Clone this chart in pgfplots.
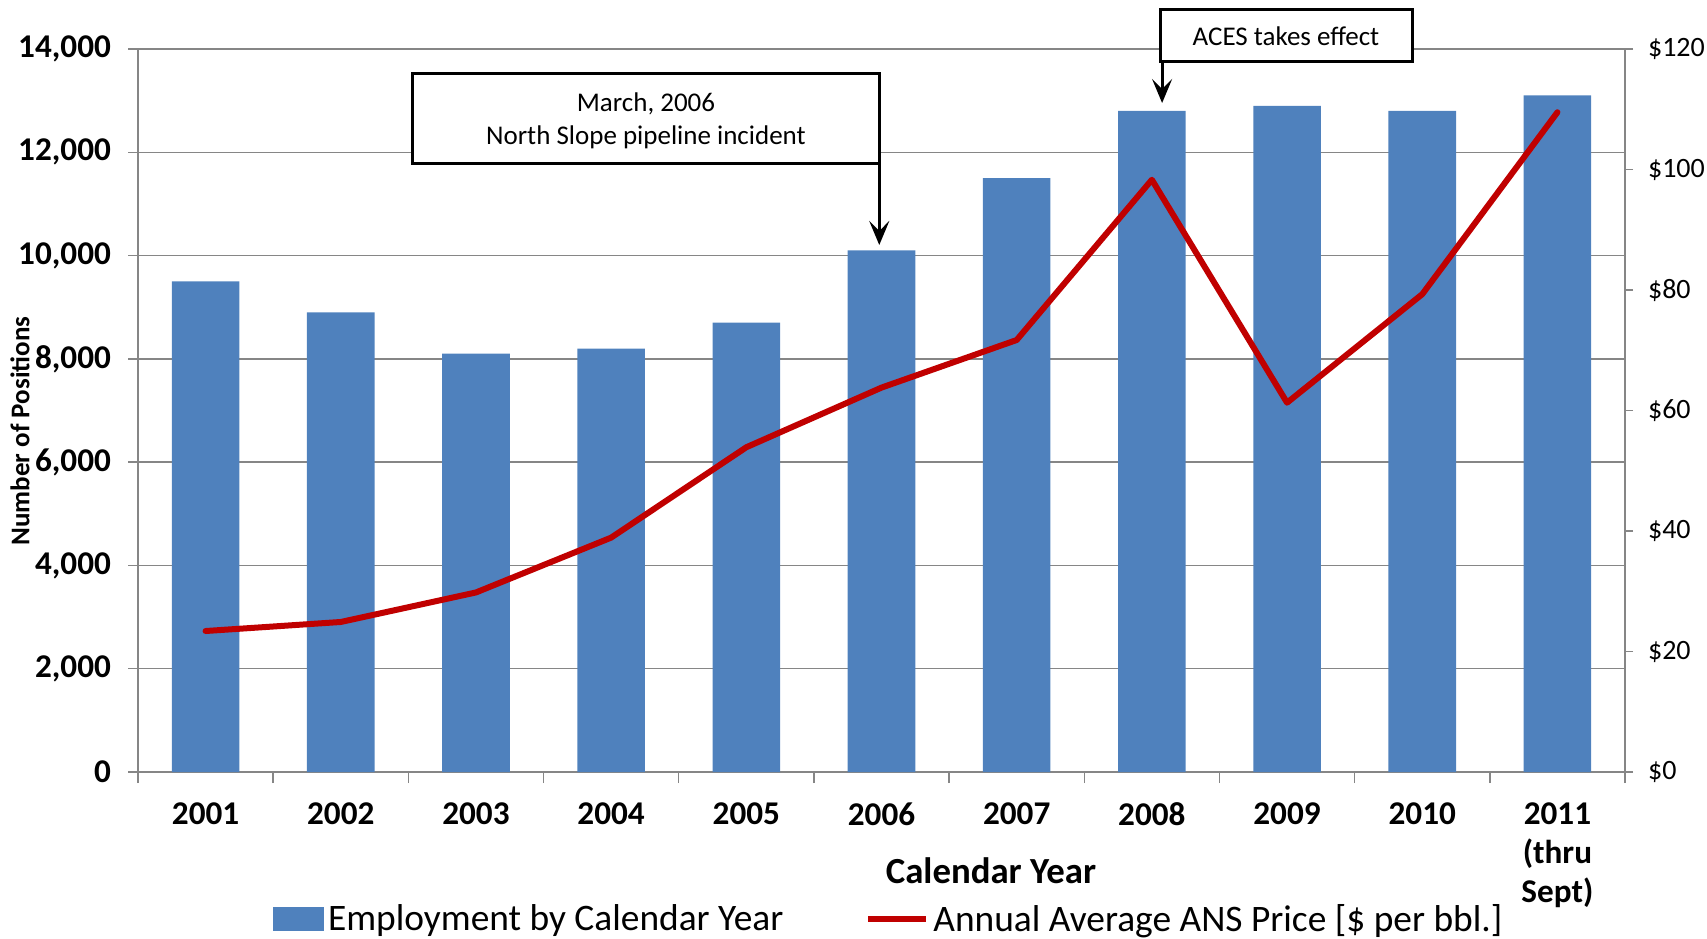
\documentclass[border=0pt]{standalone}
\usepackage{pgfplots}
\pgfplotsset{compat=1.18}
\usepackage{fontspec}
\setmainfont{Carlito}
\usetikzlibrary{arrows.meta}
\definecolor{barblue}{HTML}{4F81BD}
\definecolor{linered}{HTML}{C00000}
\definecolor{axgray}{HTML}{868686}
\newcommand{\tickfont}{\bfseries\fontsize{16.6}{19.3}\selectfont}
\newcommand{\rtickfont}{\fontsize{14}{16}\selectfont}
\newcommand{\annfont}{\fontsize{13.5}{16.5}\selectfont}
\begin{document}
\begin{tikzpicture}
\begin{axis}[
  scale only axis, width=743.5pt, height=361.5pt,
  xmin=-0.5, xmax=10.5, ymin=0, ymax=14000,
  axis x line*=bottom, axis y line*=left,
  axis line style={axgray, line width=0.75pt},
  tick align=outside,
  tick style={axgray, line width=0.75pt},
  major tick length=5pt, minor tick length=5.5pt,
  xtick={0,...,10},
  xticklabels={2001,2002,2003,2004,2005,2006,2007,2008,2009,{2010},{2011\\(thru\\Sept)}},
  major x tick style={draw=none},
  minor xtick={-0.5,0.5,...,10.5},
  xticklabel style={font=\tickfont, align=center, text=black, yshift=-7pt},
  ytick={0,2000,...,14000},
  yticklabels={0,{2,000},{4,000},{6,000},{8,000},{10,000},{12,000},{14,000}},
  yticklabel style={font=\tickfont, text=black, xshift=-5pt},
  scaled y ticks=false,
  ymajorgrids, grid style={axgray, line width=0.75pt},
  xlabel={Calendar Year},
  xlabel style={at={(axis description cs:0.5736,-0.137)}, anchor=center, font=\bfseries\fontsize{18.4}{20}\selectfont},
  ylabel={Number of Positions},
  ylabel style={at={(axis description cs:-0.0794,0.4716)}, anchor=center, font=\bfseries\fontsize{13.5}{14}\selectfont},
  legend style={at={(0.5055,-0.2035)}, anchor=center, draw=none, fill=none,
    legend columns=2, font=\fontsize{18.7}{20}\selectfont,
    /tikz/every even column/.append style={column sep=39pt}},
]
\addplot[ybar, bar width=0.5, bar shift=0pt, fill=barblue, draw=none,
  legend image code/.code={\fill[barblue] (0pt,-6pt) rectangle (25.5pt,6pt);}]
  coordinates {(0,9500) (1,8900) (2,8100) (3,8200) (4,8700) (5,10100) (6,11500) (7,12800) (8,12900) (9,12800) (10,13100)};
\addlegendentry{Employment by Calendar Year}
\addlegendimage{legend image code/.code={\draw[linered, line width=3pt] (0pt,0pt) -- (29pt,0pt);}}
\addlegendentry{Annual Average ANS Price [\$ per bbl.]}
\coordinate (ll) at (rel axis cs:0,0);
\coordinate (ur) at (rel axis cs:1,1);
\end{axis}
\begin{axis}[
  scale only axis, width=743.5pt, height=361.5pt,
  xmin=-0.5, xmax=10.5, ymin=0, ymax=120,
  clip=false,
  axis x line=none, axis y line*=right,
  axis line style={axgray, line width=0.75pt},
  tick align=outside,
  tick style={axgray, line width=0.75pt},
  major tick length=4pt,
  ytick={0,20,...,120},
  yticklabels={\$0,\$20,\$40,\$60,\$80,\$100,\$120},
  yticklabel style={font=\rtickfont, text=black, xshift=4pt},
]
\addplot[linered, line width=3pt, line join=round, line cap=round]
  coordinates {(0,23.4) (1,24.9) (2,29.8) (3,38.9) (4,53.9) (5,63.8) (6,71.7) (7,98.3) (8,61.3) (9,79.3) (10,109.5)};
\draw[black, line width=1.5pt, fill=white] (rel axis cs:0.1849,0.8423) rectangle (rel axis cs:0.4985,0.9668);
\node[align=center, font=\annfont, inner sep=0pt] at (rel axis cs:0.3416,0.9001) {March, 2006\\North Slope pipeline incident};
\draw[black, line width=1.5pt, -{Stealth[length=12pt,width=10pt,inset=5pt]}] (rel axis cs:0.4985,0.8423) -- (rel axis cs:0.4985,0.7289);
\draw[black, line width=1.5pt, fill=white] (rel axis cs:0.6873,0.9834) rectangle (rel axis cs:0.8574,1.0553);
\node[font=\annfont, inner sep=0pt] at (rel axis cs:0.772,1.0180) {ACES takes effect};
\draw[black, line width=1.5pt, -{Stealth[length=12pt,width=10pt,inset=5pt]}] (rel axis cs:0.6887,0.9834) -- (rel axis cs:0.6887,0.9253);
\end{axis}
\pgfresetboundingbox
\useasboundingbox ([xshift=-69pt,yshift=-83pt]ll) rectangle ([xshift=41pt,yshift=24.5pt]ur);
\end{tikzpicture}
\end{document}
